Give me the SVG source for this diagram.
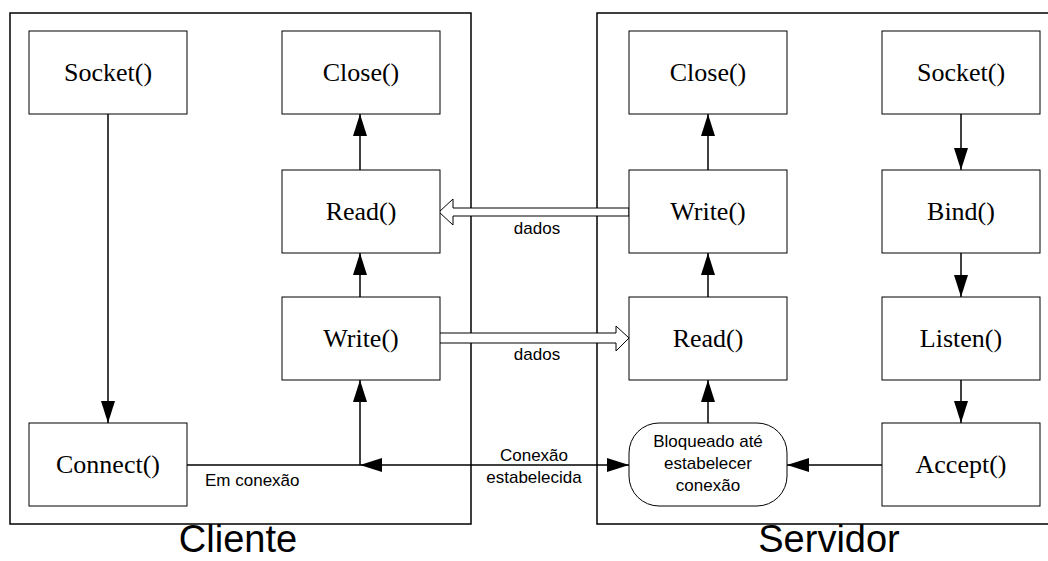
<svg xmlns="http://www.w3.org/2000/svg" width="1048" height="561" viewBox="0 0 1048 561">
<defs>
<style>
.frame{fill:none;stroke:#000;stroke-width:1.5}
.box{fill:#fff;stroke:#000;stroke-width:1}
.bt{font-family:"Liberation Serif","Times New Roman",serif;font-size:26px;text-anchor:middle;fill:#000}
.lt{font-family:"Liberation Sans",Arial,sans-serif;font-size:17px;fill:#000}
.big{font-family:"Liberation Sans",Arial,sans-serif;font-size:38px;text-anchor:middle;fill:#000}
.con{fill:none;stroke:#000;stroke-width:1.5}
.hollow{fill:#fff;stroke:#000;stroke-width:1}
</style>
<marker id="ah" markerUnits="userSpaceOnUse" markerWidth="22" markerHeight="14" refX="22" refY="7" orient="auto">
<path d="M0,0 L22,7 L0,14 z" fill="#000"/>
</marker>
</defs>
<rect width="1048" height="561" fill="#fff"/>
<g id="frames">
<rect class="frame" x="10" y="13" width="461" height="511"/>
<path class="frame" d="M1048,13 H597 V524 H1048"/>
<text class="big" x="238" y="552">Cliente</text>
<text class="big" x="829" y="552">Servidor</text>
</g>
<g id="connectors">
<line class="con" x1="108" y1="114" x2="108" y2="423" marker-end="url(#ah)"/>
<line class="con" x1="360" y1="297" x2="360" y2="253" marker-end="url(#ah)"/>
<line class="con" x1="360" y1="170" x2="360" y2="114" marker-end="url(#ah)"/>
<line class="con" x1="360" y1="465" x2="360" y2="380" marker-end="url(#ah)"/>
<line class="con" x1="187" y1="465" x2="629" y2="465" marker-end="url(#ah)"/>
<path d="M360,465 L382,458 L382,472 z" fill="#000"/>
<line class="con" x1="708" y1="297" x2="708" y2="253" marker-end="url(#ah)"/>
<line class="con" x1="708" y1="170" x2="708" y2="114" marker-end="url(#ah)"/>
<line class="con" x1="708" y1="423" x2="708" y2="380" marker-end="url(#ah)"/>
<line class="con" x1="961" y1="114" x2="961" y2="170" marker-end="url(#ah)"/>
<line class="con" x1="961" y1="253" x2="961" y2="297" marker-end="url(#ah)"/>
<line class="con" x1="961" y1="380" x2="961" y2="423" marker-end="url(#ah)"/>
<line class="con" x1="882" y1="465" x2="787" y2="465" marker-end="url(#ah)"/>
<path class="hollow" d="M629,208 H453 V199 L439,212 L453,225 V216 H629 z"/>
<path class="hollow" d="M439,333 H616 V326 L629,338 L616,351 V343 H439 z"/>
<text class="lt" x="537" y="234" text-anchor="middle">dados</text>
<text class="lt" x="537" y="360" text-anchor="middle">dados</text>
<text class="lt" x="205" y="486">Em conexão</text>
<text class="lt" x="534" y="461" text-anchor="middle">Conexão</text>
<text class="lt" x="534" y="483" text-anchor="middle">estabelecida</text>
</g>
<g id="c-socket"><rect class="box" x="29" y="31" width="158" height="83"/><text class="bt" x="108" y="81">Socket()</text></g>
<g id="c-close"><rect class="box" x="282" y="31" width="158" height="83"/><text class="bt" x="361" y="81">Close()</text></g>
<g id="c-read"><rect class="box" x="282" y="170" width="158" height="83"/><text class="bt" x="361" y="220">Read()</text></g>
<g id="c-write"><rect class="box" x="282" y="297" width="158" height="83"/><text class="bt" x="361" y="347">Write()</text></g>
<g id="c-connect"><rect class="box" x="29" y="423" width="158" height="83"/><text class="bt" x="108" y="473">Connect()</text></g>
<g id="s-close"><rect class="box" x="629" y="31" width="158" height="83"/><text class="bt" x="708" y="81">Close()</text></g>
<g id="s-write"><rect class="box" x="629" y="170" width="158" height="83"/><text class="bt" x="708" y="220">Write()</text></g>
<g id="s-read"><rect class="box" x="629" y="297" width="158" height="83"/><text class="bt" x="708" y="347">Read()</text></g>
<g id="s-block"><rect class="box" x="629" y="423" width="158" height="83" rx="30" ry="30"/>
<text class="lt" x="708" y="447" text-anchor="middle">Bloqueado até</text>
<text class="lt" x="708" y="469" text-anchor="middle">estabelecer</text>
<text class="lt" x="708" y="491" text-anchor="middle">conexão</text></g>
<g id="s-socket"><rect class="box" x="882" y="31" width="158" height="83"/><text class="bt" x="961" y="81">Socket()</text></g>
<g id="s-bind"><rect class="box" x="882" y="170" width="158" height="83"/><text class="bt" x="961" y="220">Bind()</text></g>
<g id="s-listen"><rect class="box" x="882" y="297" width="158" height="83"/><text class="bt" x="961" y="347">Listen()</text></g>
<g id="s-accept"><rect class="box" x="882" y="423" width="158" height="83"/><text class="bt" x="961" y="473">Accept()</text></g>
</svg>
